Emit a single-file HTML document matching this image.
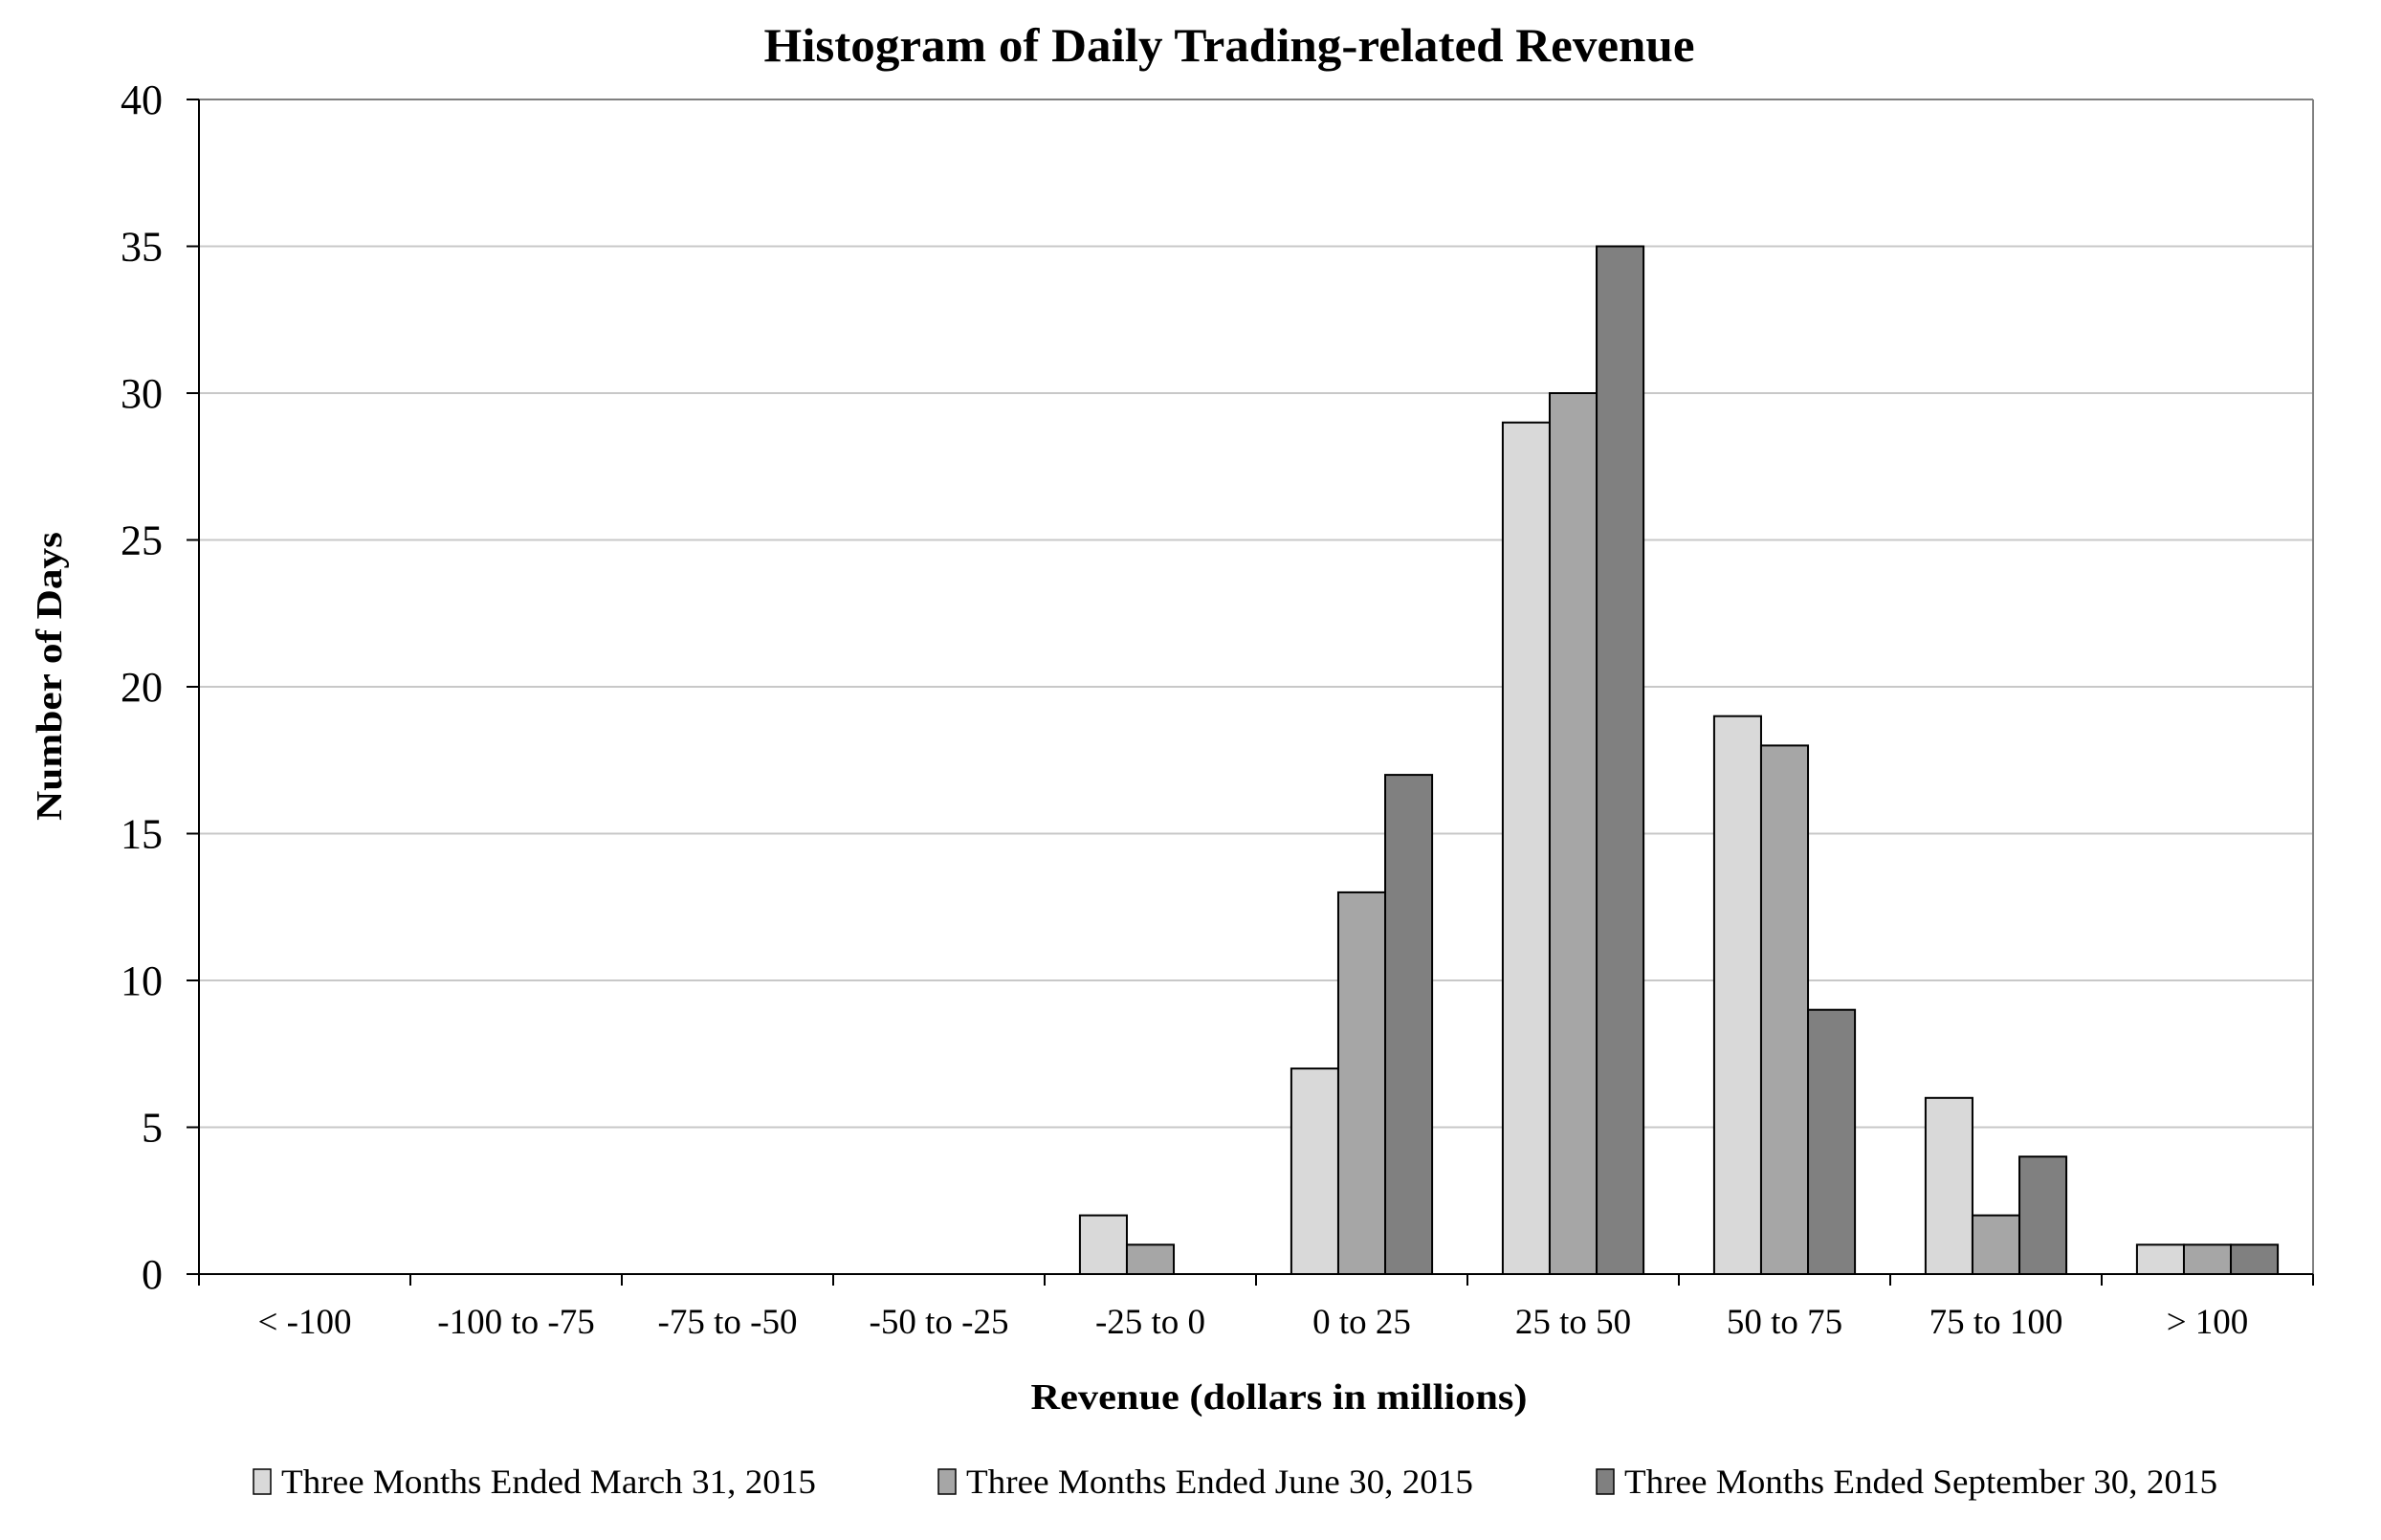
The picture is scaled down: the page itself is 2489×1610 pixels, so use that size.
<!DOCTYPE html>
<html><head><meta charset="utf-8"><style>
html,body{margin:0;padding:0;background:#fff;}
svg{display:block;font-family:"Liberation Serif",serif;}
</style></head><body>
<svg id="chart" width="2489" height="1610" viewBox="0 0 2489 1610" xmlns="http://www.w3.org/2000/svg">
<text x="1285" y="64" text-anchor="middle" font-size="50" font-weight="bold" textLength="973" lengthAdjust="spacingAndGlyphs">Histogram of Daily Trading-related Revenue</text>
<text transform="translate(64,707) rotate(-90)" text-anchor="middle" font-size="38" font-weight="bold" textLength="302" lengthAdjust="spacingAndGlyphs">Number of Days</text>
<text x="1337" y="1473" text-anchor="middle" font-size="38" font-weight="bold" textLength="519" lengthAdjust="spacingAndGlyphs">Revenue (dollars in millions)</text>
<g id="grid"></g><g id="bars"></g><g id="axes"></g>
<g>
<rect x="265" y="1536" width="18" height="26" fill="#d9d9d9" stroke="#000" stroke-width="1.5"/>
<text x="294" y="1561" font-size="36" textLength="559" lengthAdjust="spacingAndGlyphs">Three Months Ended March 31, 2015</text>
<rect x="981" y="1536" width="18" height="26" fill="#a6a6a6" stroke="#000" stroke-width="1.5"/>
<text x="1010" y="1561" font-size="36" textLength="530" lengthAdjust="spacingAndGlyphs">Three Months Ended June 30, 2015</text>
<rect x="1669" y="1536" width="18" height="26" fill="#808080" stroke="#000" stroke-width="1.5"/>
<text x="1698" y="1561" font-size="36" textLength="620" lengthAdjust="spacingAndGlyphs">Three Months Ended September 30, 2015</text>
</g>
</svg>
<script>
const categories = ["< -100","-100 to -75","-75 to -50","-50 to -25","-25 to 0","0 to 25","25 to 50","50 to 75","75 to 100","> 100"];
const marchValues = [0,0,0,0,2,7,29,19,6,1];
const juneValues = [0,0,0,0,1,13,30,18,2,1];
const septemberValues = [0,0,0,0,0,17,35,9,4,1];
const yTicks = [0,5,10,15,20,25,30,35,40];
const seriesNames = ["march","june","september"];
const seriesColors = ["#d9d9d9","#a6a6a6","#808080"];

const NS = "http://www.w3.org/2000/svg";
const L = 208, R = 2418, T = 104, B = 1332, YMAX = 40;
const catW = (R - L) / categories.length;
function yScale(v){ return B - (v / YMAX) * (B - T); }
function xBand(i){ return L + i * catW; }
function mk(tag, attrs, parent){ const e = document.createElementNS(NS, tag); for (const k in attrs) e.setAttribute(k, attrs[k]); parent.appendChild(e); return e; }

const grid = document.getElementById('grid');
const bars = document.getElementById('bars');
const axes = document.getElementById('axes');

yTicks.forEach(v => {
  const y = yScale(v);
  if (v > 0) {
    const g = mk('line', {x1:L, x2:R, y1:y, y2:y, stroke: v === YMAX ? '#808080' : '#c8c8c8', 'stroke-width':2}, grid);
    
    
  }
  const t = mk('line', {x1:L-13, x2:L, y1:y, y2:y, stroke:'#000', 'stroke-width':2}, axes);
  
  
  const lb = mk('text', {x:170, y:y+15, 'text-anchor':'end', 'font-size':44}, axes);
  lb.textContent = v;
  
  
});

const rb = mk('line', {x1:R, x2:R, y1:T, y2:B, stroke:'#808080', 'stroke-width':2}, grid);



const allSeries = [marchValues, juneValues, septemberValues];
const barW = catW * 0.222, pad = (catW - 3 * barW) / 2;
categories.forEach((c, i) => {
  allSeries.forEach((vals, s) => {
    const v = vals[i];
    if (v <= 0) return;
    const x = xBand(i) + pad + s * barW;
    const r = mk('rect', {x:x, y:yScale(v), width:barW, height:B - yScale(v), fill:seriesColors[s], stroke:'#000', 'stroke-width':2}, bars);
    
    
  });
  const lb = mk('text', {x:xBand(i) + catW/2, y:1394, 'text-anchor':'middle', 'font-size':37}, axes);
  lb.textContent = c;
  
  
});

for (let i = 0; i <= categories.length; i++) {
  const x = xBand(i);
  const t = mk('line', {x1:x, x2:x, y1:B, y2:B+12, stroke:'#000', 'stroke-width':2}, axes);
  
  
}
const ya = mk('line', {x1:L, x2:L, y1:T, y2:B+12, stroke:'#000', 'stroke-width':2}, axes);


const xa = mk('line', {x1:L-13, x2:R, y1:B, y2:B, stroke:'#000', 'stroke-width':2}, axes);


</script>
</body></html>
